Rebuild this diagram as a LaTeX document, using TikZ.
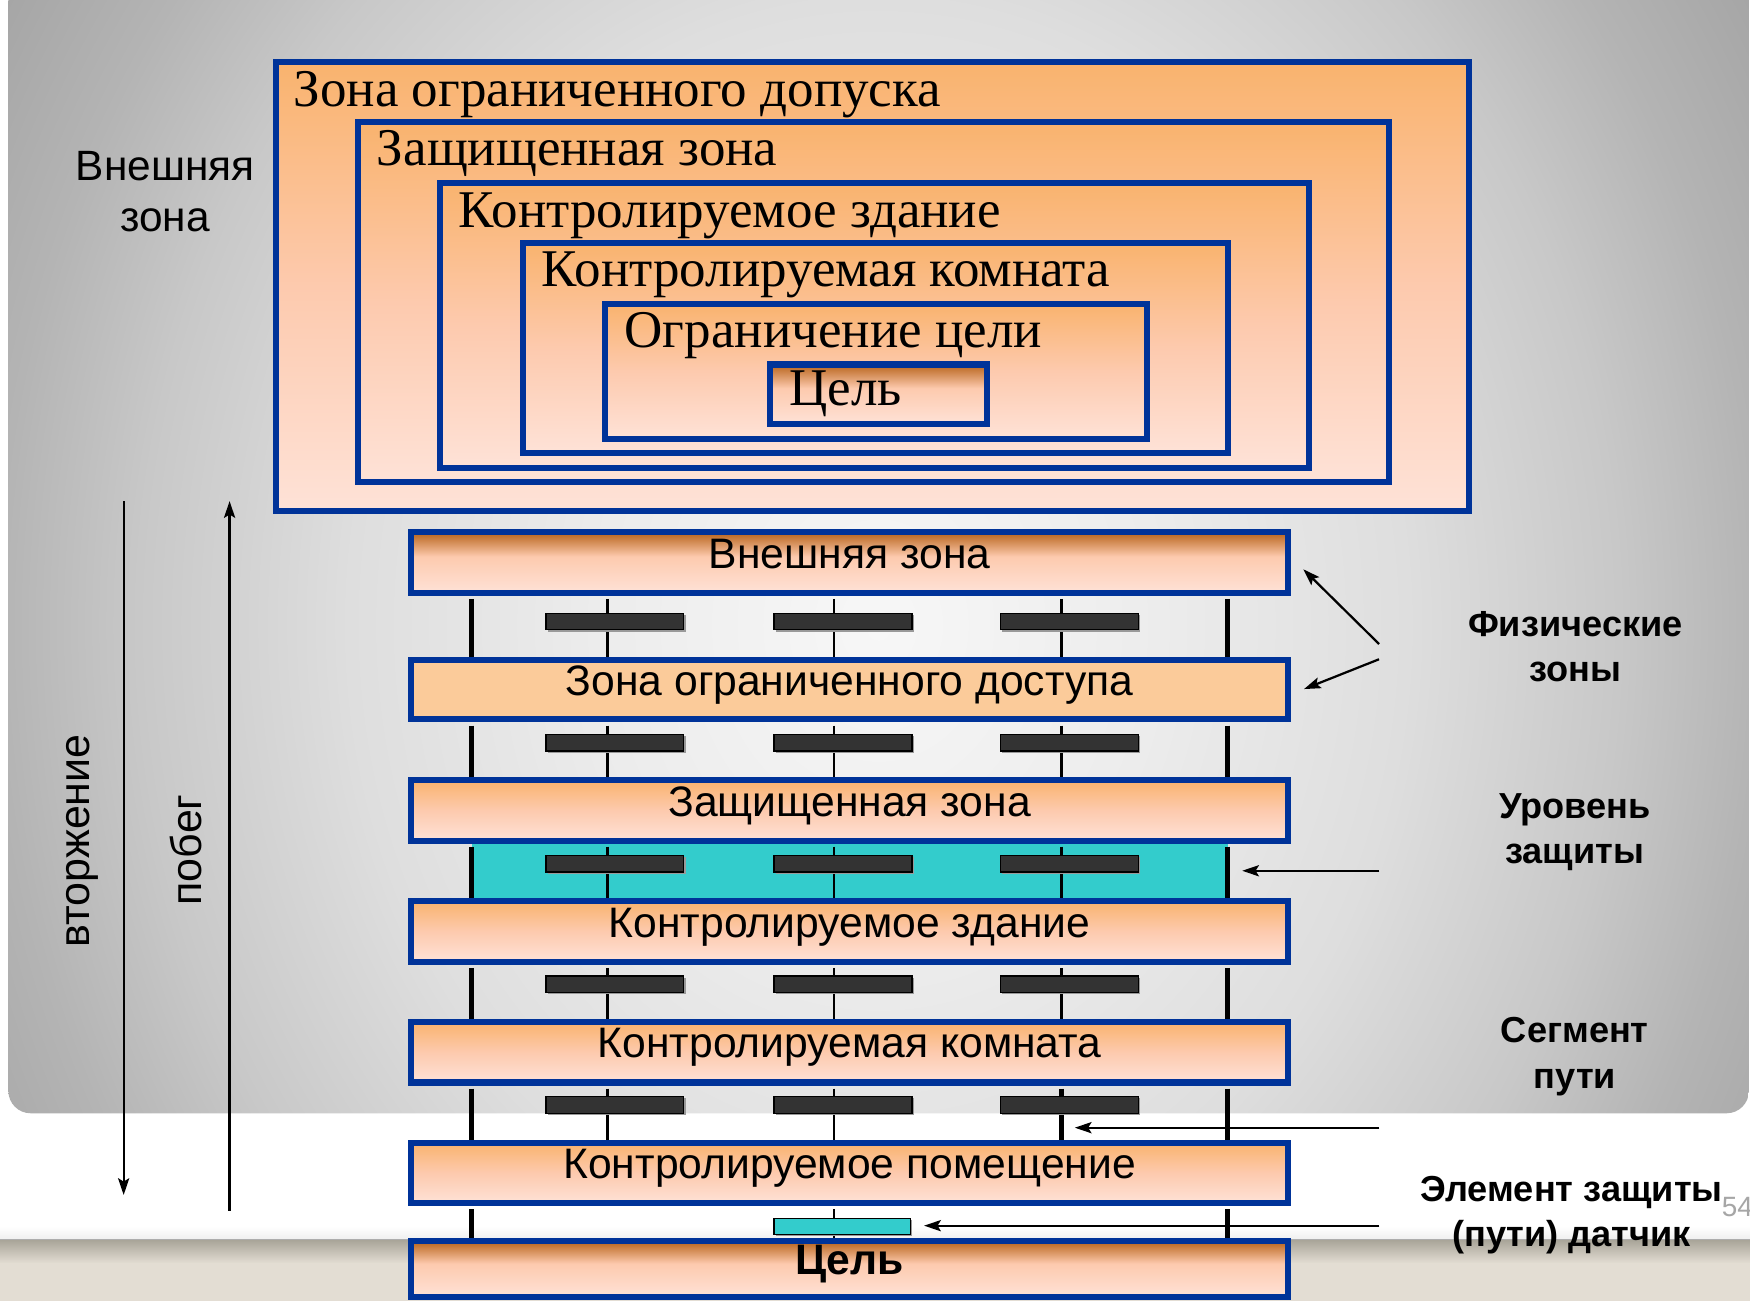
\documentclass[tikz,border=0pt]{standalone}
\usepackage{fontspec}
\setmainfont{Liberation Serif}
\setsansfont{Liberation Sans}
\usetikzlibrary{arrows.meta}

\definecolor{zoneblue}{HTML}{003399}
\definecolor{peachtop}{HTML}{F9B36E}
\definecolor{peachmid}{HTML}{FDCAAE}
\definecolor{peachbot}{HTML}{FEE2D7}
\definecolor{rust}{HTML}{B8641C}
\definecolor{flatorange}{HTML}{FBCB9A}
\definecolor{tealfill}{HTML}{33CCCC}
\definecolor{sensorfill}{HTML}{333333}
\definecolor{beige}{HTML}{E3DDD3}
\definecolor{beigetop}{HTML}{AAA69A}
\definecolor{pagegray}{HTML}{A6A6A6}
\definecolor{bgA}{HTML}{F7F7F7}
\definecolor{bgB}{HTML}{ECECEC}
\definecolor{bgC}{HTML}{DEDEDE}
\definecolor{bgD}{HTML}{C8C8C8}
\definecolor{bgE}{HTML}{B4B4B4}
\definecolor{bgF}{HTML}{A2A2A2}
\definecolor{bgG}{HTML}{9C9C9C}

% orange zone fill: orange at the top, pale peach at the bottom
\pgfdeclareverticalshading{zonegrad}{100bp}{color(0bp)=(peachbot); color(25bp)=(peachbot); color(50bp)=(peachmid); color(75bp)=(peachtop); color(100bp)=(peachtop)}
% target fill: rust band at the top fading into peach
\pgfdeclareverticalshading{rustgrad}{100bp}{color(0bp)=(peachbot); color(25bp)=(peachbot); color(55bp)=(peachmid); color(75bp)=(rust); color(100bp)=(rust)}
% slide background
\pgfdeclareradialshading{slidebg}{\pgfpoint{0bp}{0bp}}{color(0bp)=(bgA); color(8bp)=(bgB); color(15bp)=(bgC); color(21bp)=(bgD); color(25bp)=(bgE); color(30bp)=(bgF); color(36bp)=(bgG); color(50bp)=(bgG)}

\begin{document}
\begin{tikzpicture}[x=1pt,y=-1pt,
  zonebox/.style={draw=zoneblue, line width=5.4pt, shade, shading=zonegrad, inner sep=0pt},
  targetbox/.style={draw=zoneblue, line width=5.4pt, shade, shading=rustgrad, inner sep=0pt},
  zonetext/.style={anchor=base west, inner sep=0pt, font=\fontsize{47.5}{54}\selectfont},
  bar/.style={draw=zoneblue, line width=5.4pt, minimum width=785.4pt, minimum height=54pt,
    inner sep=0pt, font=\sffamily\fontsize{38.2}{44}\selectfont, text height=30pt, text depth=20pt},
  post/.style={line width=4.6pt, black},
  wire/.style={line width=2pt, black},
  sensorbox/.style={fill=sensorfill, draw=black, line width=1.2pt},
  sensorshadow/.style={fill=black!40},
  sidelabel/.style={align=center, inner sep=0pt, font=\sffamily\bfseries\fontsize{32.4}{40.5}\selectfont},
  plainlabel/.style={align=center, inner sep=0pt, font=\sffamily\fontsize{38}{46.3}\selectfont},
  sidetext/.style={inner sep=0pt, font=\sffamily\fontsize{38.5}{46}\selectfont},
  arr/.style={line width=2pt, -{Stealth[length=15pt, width=10pt, inset=3pt]}}
]
\useasboundingbox (0,0) rectangle (1568,1166);

% ---------- slide background ----------
\fill[white] (0,0) rectangle (1568,1166);
\begin{scope}
  \clip[rounded corners=20pt] (7.5,-40) rectangle (1567,997.5);
  \shade[shading=slidebg] (-3,-373) rectangle (1577,1493);
\end{scope}
\shade[top color=white, bottom color=black!6] (0,1099) rectangle (1568,1110);
\fill[black!32] (0,1110) rectangle (1568,1111.5);
\shade[top color=beigetop, bottom color=beige] (0,1111.5) rectangle (1568,1132);
\fill[beige] (0,1132) rectangle (1568,1166);

% ---------- nested zones ----------
\node[zonebox, minimum width=1069.2pt, minimum height=402.2pt] (z1) at (781.9,256.9) {};
\node[zonebox, minimum width=923.8pt,  minimum height=322.4pt] (z2) at (782.6,270.8) {};
\node[zonebox, minimum width=778.5pt,  minimum height=255.2pt] (z3) at (783.55,291.4) {};
\node[zonebox, minimum width=632.3pt,  minimum height=188.3pt] (z4) at (784.35,311.75) {};
\node[zonebox, minimum width=485.6pt,  minimum height=121pt]   (z5) at (785.2,332.6) {};
\node[targetbox, minimum width=194.2pt, minimum height=53.2pt] (z6) at (787.4,353.2) {};

\node[zonetext] (t1) at (263,95)    {Зона ограниченного допуска};
\node[zonetext] (t2) at (337.5,148.7) {Защищенная зона};
\node[zonetext] (t3) at (411,203.5) {Контролируемое здание};
\node[zonetext] (t4) at (485.3,257) {Контролируемая комната};
\node[zonetext] (t5) at (559.5,311.5) {Ограничение цели};
\node[zonetext] (t6) at (707.2,363.5) {Цель};

% the base anchor of a two-line label sits on its second line
\node[plainlabel, anchor=base] (outer) at (148,207.6) {Внешняя\\зона};

% ---------- direction arrows ----------
\coordinate (inTop) at (110.8,449);
\coordinate (inEnd) at (110.8,1070.7);
\coordinate (outBot) at (205.7,1084.8);
\coordinate (outTop) at (205.7,449);
\draw[arr] (inTop) -- (inEnd);
\draw[arr] (outBot) -- (outTop);
\node[sidetext, rotate=90] (intrusion) at (74,753.5) {вторжение};
\node[sidetext, rotate=90] (escape) at (166.5,761.5) {побег};

% ---------- path ladder ----------
\fill[tealfill] (422.6,753.1) rectangle (1100.1,807.4);

\foreach \ya/\yb in {536.7/591, 650.1/699.3, 758.6/807.4, 867.2/915.8, 975.5/1024, 1083.7/1112}{
  \draw[post] (422.6,\ya) -- (422.6,\yb);
  \draw[post] (1100.1,\ya) -- (1100.1,\yb);
}
\foreach \ya/\yb in {536.7/591, 650.1/699.3, 758.6/807.4, 867.2/915.8, 975.5/1024}{
  \draw[wire] (544.3,\ya) -- (544.3,\yb);
  \draw[wire] (747.5,\ya) -- (747.5,\yb);
}
\foreach \ya/\yb in {536.7/591, 650.1/699.3, 758.6/807.4, 867.2/915.8}{
  \draw[wire] (951,\ya) -- (951,\yb);
}
\draw[post] (951,975.5) -- (951,1024);
\draw[wire] (747.5,1083.7) -- (747.5,1112);

\foreach \sy in {549.5, 658, 766.4, 874.5, 982.6}{
  \foreach \sx in {489.2, 693.6, 896.4}{
    \fill[sensorshadow] (\sx+1.6,\sy+1.6) rectangle ++(123.4,14.8);
    \draw[sensorbox] (\sx,\sy) rectangle ++(123.4,14.8);
  }
}
\fill[sensorshadow] (695.2,1093.2) rectangle ++(122,14.4);
\draw[fill=tealfill, draw=black, line width=1.2pt] (693.6,1091.6) rectangle ++(122,14.4);

% ---------- zone bars ----------
\node[bar, shade, shading=rustgrad, minimum height=54.2pt] (b1) at (761.2,504.1) {Внешняя зона};
\node[bar, fill=flatorange, minimum height=53.6pt] (b2) at (761.2,617.8) {Зона ограниченного доступа};
\node[bar, shade, shading=zonegrad] (b3) at (761.2,726.2) {Защищенная зона};
\node[bar, shade, shading=zonegrad] (b4) at (761.2,834.55) {Контролируемое здание};
\node[bar, shade, shading=zonegrad] (b5) at (761.2,942.9) {Контролируемая комната};
\node[bar, shade, shading=zonegrad] (b6) at (761.2,1051.1) {Контролируемое помещение};
\node[bar, shade, shading=rustgrad, minimum height=50.1pt] (b7) at (761.2,1137.25) {\bfseries Цель};

% ---------- side labels (base = second line) ----------
\node[sidelabel, anchor=base] (lphys) at (1411.5,611) {Физические\\зоны};
\node[sidelabel, anchor=base] (llevel) at (1411,774) {Уровень\\защиты};
\node[sidelabel, anchor=base] (lseg) at (1411,975) {Сегмент\\пути};
\node[sidelabel, anchor=base] (lelem) at (1408,1117) {Элемент защиты\\(пути) датчик};

\coordinate (physA) at (1235.6,577);
\coordinate (physB) at (1235.6,590.7);
\coordinate (physTipA) at (1167.8,510.1);
\coordinate (physTipB) at (1168.4,617.4);
\draw[arr] (physA) -- (physTipA);
\draw[arr] (physB) -- (physTipB);

\coordinate (levelA) at (1236,780.2);
\coordinate (levelTip) at (1113,780.2);
\draw[arr] (levelA) -- (levelTip);

\coordinate (segA) at (1236,1010.4);
\coordinate (segTip) at (963,1010.4);
\draw[arr] (segA) -- (segTip);

\coordinate (elemA) at (1236,1098.2);
\coordinate (elemTip) at (828,1098.2);
\draw[arr] (elemA) -- (elemTip);

\node[anchor=base west, inner sep=0pt, text=pagegray, font=\sffamily\fontsize{25}{30}\selectfont] (pagenum) at (1542.6,1090) {54};
\end{tikzpicture}
\end{document}
